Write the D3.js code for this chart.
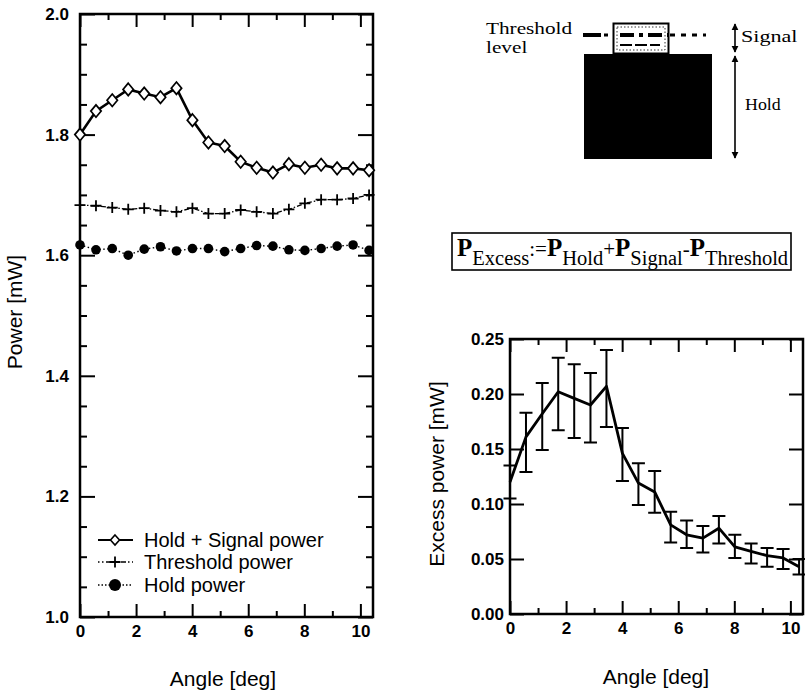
<!DOCTYPE html>
<html>
<head>
<meta charset="utf-8">
<script src="https://cdn.jsdelivr.net/npm/d3@7"></script>
<style>
  body { margin: 0; background: #fff; }
  svg { display: block; }
</style>
</head>
<body>
<svg id="fig" width="805" height="694"></svg>
<script>
// ---- data ----
const angles = [0, 0.57, 1.15, 1.72, 2.29, 2.87, 3.44, 4.01, 4.58, 5.16, 5.73, 6.30, 6.88, 7.45, 8.02, 8.60, 9.17, 9.74, 10.31];
const holdSignal = [1.800, 1.839, 1.857, 1.875, 1.868, 1.862, 1.877, 1.824, 1.787, 1.781, 1.755, 1.745, 1.737, 1.751, 1.745, 1.750, 1.744, 1.744, 1.741];
const threshold  = [1.683, 1.682, 1.679, 1.676, 1.678, 1.674, 1.672, 1.678, 1.669, 1.669, 1.675, 1.672, 1.669, 1.676, 1.686, 1.692, 1.692, 1.694, 1.700];
const hold       = [1.617, 1.609, 1.611, 1.600, 1.610, 1.614, 1.607, 1.611, 1.611, 1.606, 1.611, 1.616, 1.615, 1.609, 1.608, 1.611, 1.615, 1.617, 1.608];
const excess     = [0.120, 0.161, 0.182, 0.202, 0.196, 0.190, 0.207, 0.146, 0.119, 0.111, 0.081, 0.072, 0.069, 0.078, 0.061, 0.057, 0.053, 0.051, 0.043];
const excessHigh = [0.135, 0.183, 0.210, 0.233, 0.227, 0.219, 0.240, 0.169, 0.137, 0.130, 0.093, 0.085, 0.080, 0.089, 0.072, 0.064, 0.060, 0.059, 0.050];
const excessLow  = [0.105, 0.129, 0.149, 0.167, 0.160, 0.156, 0.170, 0.121, 0.099, 0.092, 0.065, 0.060, 0.056, 0.064, 0.051, 0.046, 0.043, 0.041, 0.036];

const angleTicks = [0, 2, 4, 6, 8, 10];
const angleMinor = [1, 3, 5, 7, 9];
const powerTicks = [1.0, 1.2, 1.4, 1.6, 1.8, 2.0];
const powerMinor = [1.05, 1.1, 1.15, 1.25, 1.3, 1.35, 1.45, 1.5, 1.55, 1.65, 1.7, 1.75, 1.85, 1.9, 1.95];
const excessTicks = [0, 0.05, 0.10, 0.15, 0.20, 0.25];
const legendLabels = ["Hold + Signal power", "Threshold power", "Hold power"];

const SANS = "'Liberation Sans', Arial, Helvetica, sans-serif";
const SERIF = "'Liberation Serif', 'Times New Roman', serif";

const svg = d3.select("#fig");

// ---- shared frame: inward ticks on all four sides, labels on bottom/left ----
function frame(g, x, y, o) {
  const [x0, x1] = x.range();
  const [y0, y1] = y.range(); // y0 bottom, y1 top
  const lab = sel => sel.selectAll("text")
    .attr("font-family", SANS).attr("font-size", 17).attr("font-weight", "bold").attr("fill", "#000");
  const strip = sel => { sel.select(".domain").remove(); sel.selectAll("line").attr("stroke", "#000").attr("stroke-width", 2); };

  // bottom
  g.append("g").attr("transform", `translate(0,${y0})`)
    .call(d3.axisBottom(x).tickValues(angleTicks).tickSize(-o.xMajor).tickPadding(8).tickFormat(d3.format("d")))
    .call(strip).call(lab);
  g.append("g").attr("transform", `translate(0,${y0})`)
    .call(d3.axisBottom(x).tickValues(angleMinor).tickSize(-o.xMinor).tickFormat(""))
    .call(strip);
  // top
  g.append("g").attr("transform", `translate(0,${y1})`)
    .call(d3.axisTop(x).tickValues(angleTicks).tickSize(-o.xMajor).tickFormat(""))
    .call(strip);
  g.append("g").attr("transform", `translate(0,${y1})`)
    .call(d3.axisTop(x).tickValues(angleMinor).tickSize(-o.xMinor).tickFormat(""))
    .call(strip);
  // left
  g.append("g").attr("transform", `translate(${x0},0)`)
    .call(d3.axisLeft(y).tickValues(o.yTicks).tickSize(-o.yMajor).tickPadding(o.yPad).tickFormat(o.yFmt))
    .call(strip).call(lab);
  // right
  g.append("g").attr("transform", `translate(${x1},0)`)
    .call(d3.axisRight(y).tickValues(o.yTicks).tickSize(-o.yMajor).tickFormat(""))
    .call(strip);
  if (o.yMinor) {
    g.append("g").attr("transform", `translate(${x0},0)`)
      .call(d3.axisLeft(y).tickValues(o.yMinor).tickSize(-o.yMinorLen).tickFormat(""))
      .call(strip);
    g.append("g").attr("transform", `translate(${x1},0)`)
      .call(d3.axisRight(y).tickValues(o.yMinor).tickSize(-o.yMinorLen).tickFormat(""))
      .call(strip);
  }
  g.append("rect")
    .attr("x", x0).attr("y", y1).attr("width", x1 - x0).attr("height", y0 - y1)
    .attr("fill", "none").attr("stroke", "#000").attr("stroke-width", 2.5);
}

// ================= left panel: power vs angle =================
const xL = d3.scaleLinear().domain([0, 10.45]).range([80, 373]);
const yL = d3.scaleLinear().domain([1.0, 2.0]).range([617, 14]);
const gL = svg.append("g");

frame(gL, xL, yL, {
  xMajor: 13, xMinor: 6, yMajor: 15, yMinorLen: 7, yPad: 11,
  yTicks: powerTicks, yMinor: powerMinor, yFmt: d3.format(".1f")
});

const lineL = vals => d3.line().x((d, i) => xL(angles[i])).y(d => yL(d))(vals);

// Hold power: dotted line, filled circles
gL.append("path").attr("d", lineL(hold))
  .attr("fill", "none").attr("stroke", "#000").attr("stroke-width", 1.4).attr("stroke-dasharray", "1.5,2.5");
gL.selectAll(".holdPt").data(hold).join("circle")
  .attr("cx", (d, i) => xL(angles[i])).attr("cy", d => yL(d)).attr("r", 4.8).attr("fill", "#000");

// Threshold power: dash-dot line, plus markers
gL.append("path").attr("d", lineL(threshold))
  .attr("fill", "none").attr("stroke", "#000").attr("stroke-width", 1.3).attr("stroke-dasharray", "5,2,1.5,2");
const plus = (cx, cy, s) => `M${cx - s},${cy}H${cx + s}M${cx},${cy - s}V${cy + s}`;
gL.selectAll(".thrPt").data(threshold).join("path")
  .attr("d", (d, i) => plus(xL(angles[i]), yL(d), 5.5))
  .attr("stroke", "#000").attr("stroke-width", 1.8).attr("fill", "none");

// Hold + Signal power: solid line, open diamonds
gL.append("path").attr("d", lineL(holdSignal))
  .attr("fill", "none").attr("stroke", "#000").attr("stroke-width", 2.6);
const diamond = (cx, cy, w, h) => `M${cx},${cy - h}L${cx + w},${cy}L${cx},${cy + h}L${cx - w},${cy}Z`;
gL.selectAll(".hsPt").data(holdSignal).join("path")
  .attr("d", (d, i) => diamond(xL(angles[i]), yL(d), 5.2, 6.2))
  .attr("fill", "#fff").attr("stroke", "#000").attr("stroke-width", 1.7);

// legend
const legY = [540, 562, 585];
const leg = gL.append("g");
leg.append("line").attr("x1", 98).attr("x2", 133).attr("y1", legY[0]).attr("y2", legY[0])
  .attr("stroke", "#000").attr("stroke-width", 2);
leg.append("path").attr("d", diamond(115, legY[0], 4.5, 5)).attr("fill", "#fff").attr("stroke", "#000").attr("stroke-width", 1.6);
leg.append("line").attr("x1", 98).attr("x2", 133).attr("y1", legY[1]).attr("y2", legY[1])
  .attr("stroke", "#000").attr("stroke-width", 1.3).attr("stroke-dasharray", "1.5,2.5,1.5,2.5,5,2");
leg.append("path").attr("d", plus(115, legY[1], 5.5)).attr("stroke", "#000").attr("stroke-width", 1.8);
leg.append("line").attr("x1", 98).attr("x2", 133).attr("y1", legY[2]).attr("y2", legY[2])
  .attr("stroke", "#000").attr("stroke-width", 1.4).attr("stroke-dasharray", "1.5,2");
leg.append("circle").attr("cx", 115).attr("cy", legY[2]).attr("r", 6).attr("fill", "#000");
leg.selectAll("text").data(legendLabels).join("text")
  .attr("x", 144).attr("y", (d, i) => legY[i] + 7)
  .attr("font-family", SANS).attr("font-size", 20).text(d => d);

// axis titles
svg.append("text").attr("x", 223).attr("y", 686).attr("text-anchor", "middle")
  .attr("font-family", SANS).attr("font-size", 21).text("Angle [deg]");
svg.append("text").attr("transform", "translate(22,312) rotate(-90)").attr("text-anchor", "middle")
  .attr("font-family", SANS).attr("font-size", 21).text("Power [mW]");

// ================= right panel: excess power vs angle =================
const xR = d3.scaleLinear().domain([0, 10.45]).range([510, 803]);
const yR = d3.scaleLinear().domain([0, 0.25]).range([614, 339]);
const gR = svg.append("g");

frame(gR, xR, yR, {
  xMajor: 13, xMinor: 6, yMajor: 14, yPad: 6,
  yTicks: excessTicks, yMinor: null, yFmt: d3.format(".2f")
});

// error bars
const cap = 6.5;
const eb = gR.append("g").attr("stroke", "#000").attr("stroke-width", 2).attr("fill", "none");
eb.selectAll("path").data(excess).join("path")
  .attr("d", (d, i) => {
    const cx = xR(angles[i]), t = yR(excessHigh[i]), b = yR(excessLow[i]);
    return `M${cx},${t}V${b}M${cx - cap},${t}H${cx + cap}M${cx - cap},${b}H${cx + cap}`;
  });

gR.append("path")
  .attr("d", d3.line().x((d, i) => xR(angles[i])).y(d => yR(d))(excess))
  .attr("fill", "none").attr("stroke", "#000").attr("stroke-width", 2.8).attr("stroke-linejoin", "round");

svg.append("text").attr("x", 656).attr("y", 684).attr("text-anchor", "middle")
  .attr("font-family", SANS).attr("font-size", 21).text("Angle [deg]");
svg.append("text").attr("transform", "translate(444,474) rotate(-90)").attr("text-anchor", "middle")
  .attr("font-family", SANS).attr("font-size", 21).text("Excess power [mW]");

// ================= schematic: threshold / signal / hold =================
const sch = svg.append("g");
const defs = svg.append("defs");
defs.append("marker").attr("id", "ah").attr("viewBox", "0 0 10 10")
  .attr("refX", 9).attr("refY", 5).attr("markerWidth", 7).attr("markerHeight", 8)
  .attr("markerUnits", "userSpaceOnUse").attr("orient", "auto-start-reverse")
  .append("path").attr("d", "M0,0L10,5L0,10Z").attr("fill", "#000");

// hold block
sch.append("rect").attr("x", 584).attr("y", 54).attr("width", 128).attr("height", 105).attr("fill", "#000");
// signal block on top
sch.append("rect").attr("x", 613.5).attr("y", 23.5).attr("width", 55).attr("height", 30)
  .attr("fill", "#fff").attr("stroke", "#000").attr("stroke-width", 2);
sch.append("rect").attr("x", 617).attr("y", 27).attr("width", 48).attr("height", 23)
  .attr("fill", "none").attr("stroke", "#000").attr("stroke-width", 0.8).attr("stroke-dasharray", "1.5,2");
sch.append("line").attr("x1", 620).attr("x2", 660).attr("y1", 45).attr("y2", 45)
  .attr("stroke", "#000").attr("stroke-width", 2).attr("stroke-dasharray", "12,3");
// threshold level
sch.append("line").attr("x1", 583).attr("x2", 601).attr("y1", 35).attr("y2", 35)
  .attr("stroke", "#000").attr("stroke-width", 4);
sch.append("line").attr("x1", 604).attr("x2", 608).attr("y1", 35).attr("y2", 35)
  .attr("stroke", "#000").attr("stroke-width", 3);
sch.append("line").attr("x1", 620).attr("x2", 668).attr("y1", 35).attr("y2", 35)
  .attr("stroke", "#000").attr("stroke-width", 4).attr("stroke-dasharray", "14,5,4,5");
sch.append("line").attr("x1", 670).attr("x2", 706).attr("y1", 35).attr("y2", 35)
  .attr("stroke", "#000").attr("stroke-width", 3).attr("stroke-dasharray", "5,6");
// arrows
sch.append("line").attr("x1", 735).attr("x2", 735).attr("y1", 24).attr("y2", 52)
  .attr("stroke", "#000").attr("stroke-width", 1.6)
  .attr("marker-start", "url(#ah)").attr("marker-end", "url(#ah)");
sch.append("line").attr("x1", 735).attr("x2", 735).attr("y1", 56).attr("y2", 158)
  .attr("stroke", "#000").attr("stroke-width", 1.6)
  .attr("marker-start", "url(#ah)").attr("marker-end", "url(#ah)");
// labels: serif, set slightly wide
const st = (x, y, s, fs, sx) => sch.append("text")
  .attr("transform", `translate(${x},${y}) scale(${sx},1)`)
  .attr("font-family", SERIF).attr("font-size", fs).text(s);
st(486, 34, "Threshold", 17, 1.25);
st(486, 53, "level", 17, 1.25);
st(741, 42, "Signal", 17, 1.3);
st(745, 110, "Hold", 17, 1.05);

// ================= formula =================
const fx = svg.append("g");
fx.append("rect").attr("x", 452).attr("y", 233).attr("width", 339).attr("height", 37)
  .attr("fill", "#fff").attr("stroke", "#000").attr("stroke-width", 1.6);
const ft = fx.append("text").attr("x", 457).attr("y", 256).attr("font-family", SERIF).attr("fill", "#000");
const parts = [["P", "Excess", ":="], ["P", "Hold", "+"], ["P", "Signal", "-"], ["P", "Threshold", ""]];
parts.forEach(([p, sub, op]) => {
  ft.append("tspan").attr("font-size", 25).attr("font-weight", "bold").text(p);
  ft.append("tspan").attr("font-size", 20.5).attr("dy", 9).text(sub);
  if (op) ft.append("tspan").attr("font-size", 21).attr("dy", -9).text(op);
  else ft.append("tspan").attr("dy", -9).text("");
});
</script>
</body>
</html>
